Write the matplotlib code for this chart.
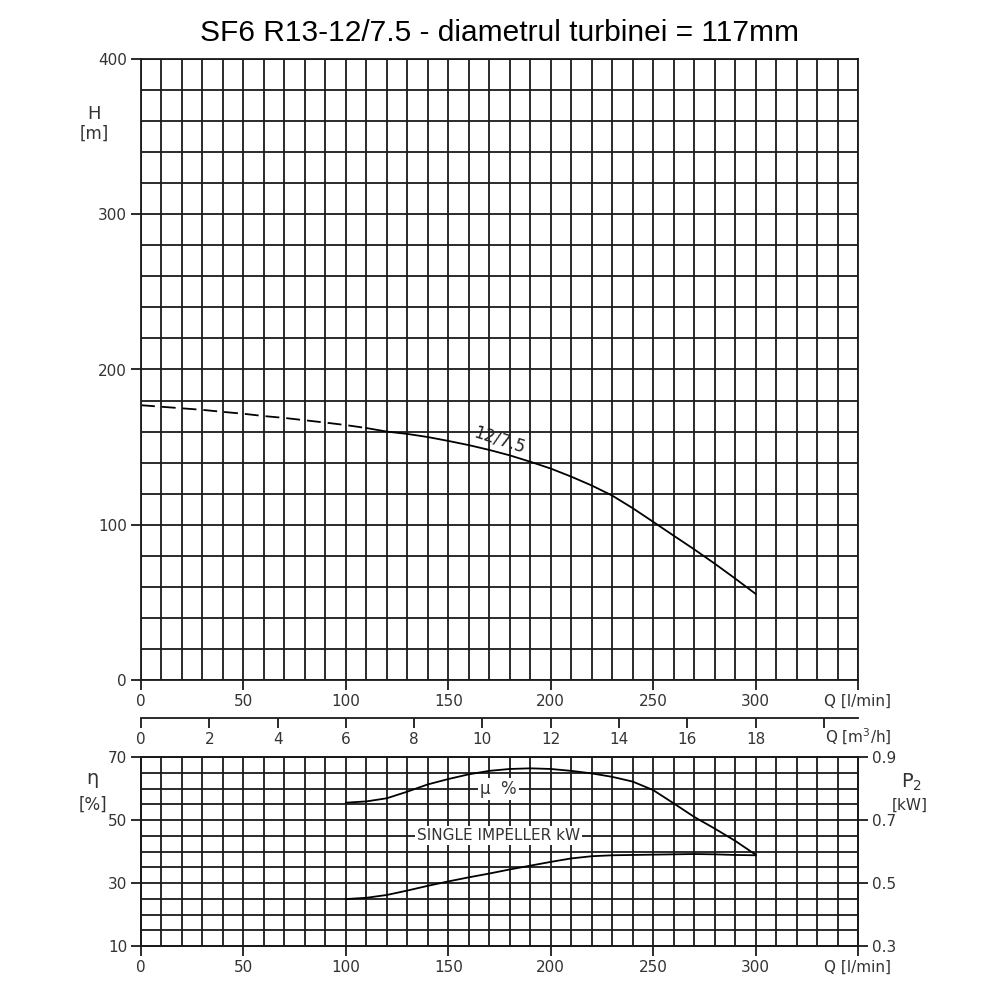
import matplotlib
matplotlib.use('Agg')
import matplotlib.pyplot as plt
from matplotlib import font_manager

# ---------------- data ----------------
q_head = [0, 10, 20, 30, 40, 50, 60, 70, 80, 90, 100, 110, 120, 130, 140, 150,
          160, 170, 180, 190, 200, 210, 220, 230, 240, 250, 260, 270, 280, 290, 300]
head = [177, 176, 175, 174, 172.7, 171.5, 170, 168.8, 167.3, 165.8, 164.2, 162.3,
        160, 158.5, 156.5, 154, 151.3, 148.2, 144.7, 140.6, 136.2, 131, 125.3,
        118.8, 110.7, 101.9, 93.0, 84.2, 75.0, 65.4, 55.5]
head_dashed_until = 110

q_eff = [100, 110, 120, 130, 140, 150, 160, 170, 180, 190, 200, 210, 220, 230,
         240, 250, 260, 270, 280, 290, 300]
eff = [55.5, 55.9, 56.9, 59.0, 61.3, 63.0, 64.5, 65.6, 66.2, 66.4, 66.2, 65.6,
       64.8, 63.7, 62.2, 59.5, 55.3, 51.0, 47.3, 43.4, 39.0]

q_pow = q_eff
power = [0.449, 0.453, 0.462, 0.476, 0.491, 0.505, 0.518, 0.530, 0.543, 0.555,
         0.567, 0.578, 0.585, 0.588, 0.589, 0.590, 0.591, 0.592, 0.591, 0.589, 0.588]

q_ticks = [0, 50, 100, 150, 200, 250, 300, 350]
q_ticklabels = ['0', '50', '100', '150', '200', '250', '300', 'Q [l/min]']
m3h_ticks = [0, 2, 4, 6, 8, 10, 12, 14, 16, 18, 20]
m3h_ticklabels = ['0', '2', '4', '6', '8', '10', '12', '14', '16', '18', '']
h_ticks = [0, 100, 200, 300, 400]
eta_ticks = [10, 30, 50, 70]
p2_ticks = [0.3, 0.5, 0.7, 0.9]
p2_ticklabels = ['0.3', '0.5', '0.7', '0.9']

title = 'SF6 R13-12/7.5 - diametrul turbinei = 117mm'

# ---------------- style ----------------
names = {f.name for f in font_manager.fontManager.ttflist}
narrow = 'Liberation Sans Narrow' if 'Liberation Sans Narrow' in names else 'DejaVu Sans'
plt.rcParams['font.family'] = [narrow, 'DejaVu Sans']
plt.rcParams['lines.scale_dashes'] = False

gc = '#1a1a1a'
glw = 1.3
tc = '#333333'
tfs = 11

fig = plt.figure(figsize=(10, 10), dpi=100)

def style(ax):
    for s in ax.spines.values():
        s.set_color(gc)
        s.set_linewidth(glw)
    ax.tick_params(which='major', length=7, width=glw, color=gc,
                   labelsize=tfs, labelcolor=tc, pad=3)
    ax.tick_params(which='minor', length=0)

# ---- top (head) ----
ax1 = fig.add_axes([0.141, 0.32, 0.717, 0.621])
ax1.set_xlim(0, 350)
ax1.set_ylim(0, 400)
ax1.set_xticks(q_ticks)
ax1.set_xticklabels(q_ticklabels)
ax1.set_xticks(range(0, 351, 10), minor=True)
ax1.set_yticks(h_ticks)
ax1.set_yticks(range(0, 401, 20), minor=True)
ax1.grid(which='both', color=gc, lw=glw)
ax1.set_axisbelow(True)
style(ax1)

i_split = q_head.index(head_dashed_until)
ax1.plot(q_head[:i_split + 1], head[:i_split + 1], color='black', lw=1.3,
         dashes=(10, 5))
ax1.plot(q_head[i_split:], head[i_split:], color='black', lw=1.3)
ax1.text(175, 154.8, '12/7.5', rotation=-18, ha='center', va='center',
         fontsize=12, color='#222222')

fig.text(0.094, 1 - 0.114, 'H', ha='center', va='center', fontsize=13, color=tc)
fig.text(0.094, 1 - 0.134, '[m]', ha='center', va='center', fontsize=12, color=tc)

# ---- middle (m3/h) axis ----
axm = fig.add_axes([0.141, 1 - 0.718, 0.717, 0.0001])
axm.set_xlim(0, 21)
axm.set_ylim(0, 1)
axm.patch.set_visible(False)
for s in ['top', 'left', 'right']:
    axm.spines[s].set_visible(False)
axm.set_yticks([])
axm.set_xticks(m3h_ticks)
axm.set_xticklabels(m3h_ticklabels)
style(axm)
fig.text(0.858, 1 - 0.737, 'Q [m$^3$/h]', ha='center', va='center',
         fontsize=tfs, color=tc)

# ---- bottom (efficiency / power) ----
ax2 = fig.add_axes([0.141, 0.054, 0.717, 0.189])
ax2.set_xlim(0, 350)
ax2.set_ylim(10, 70)
ax2.set_xticks(q_ticks)
ax2.set_xticklabels(q_ticklabels)
ax2.set_xticks(range(0, 351, 10), minor=True)
ax2.set_yticks(eta_ticks)
ax2.set_yticks(range(10, 71, 5), minor=True)
ax2.grid(which='both', color=gc, lw=glw)
ax2.set_axisbelow(True)
style(ax2)
ax2.plot(q_eff, eff, color='black', lw=1.3)
ax2.text(174.5, 60, '\u03bc  %', ha='center', va='center', fontsize=12, color=tc,
         bbox=dict(facecolor='white', edgecolor='none', pad=1.5))
ax2.text(174.5, 45, 'SINGLE IMPELLER kW', ha='center', va='center', fontsize=11,
         color=tc, bbox=dict(facecolor='white', edgecolor='none', pad=1.5))

ax2b = ax2.twinx()
ax2b.set_ylim(0.3, 0.9)
ax2b.set_yticks(p2_ticks)
ax2b.set_yticklabels(p2_ticklabels)
style(ax2b)
ax2b.plot(q_pow, power, color='black', lw=1.3)

fig.text(0.092, 1 - 0.778, '\u03b7', ha='center', va='center', fontsize=14, color=tc)
fig.text(0.093, 1 - 0.805, '[%]', ha='center', va='center', fontsize=12, color=tc)
fig.text(0.912, 1 - 0.782, 'P$_2$', ha='center', va='center', fontsize=14, color=tc)
fig.text(0.910, 1 - 0.805, '[kW]', ha='center', va='center', fontsize=11, color=tc)

fig.text(0.5, 1 - 0.033, title, ha='center', va='center', fontsize=21.5,
         family=['Liberation Sans', 'DejaVu Sans'], color='black')

fig.savefig('out.png', dpi=100, facecolor='white')
